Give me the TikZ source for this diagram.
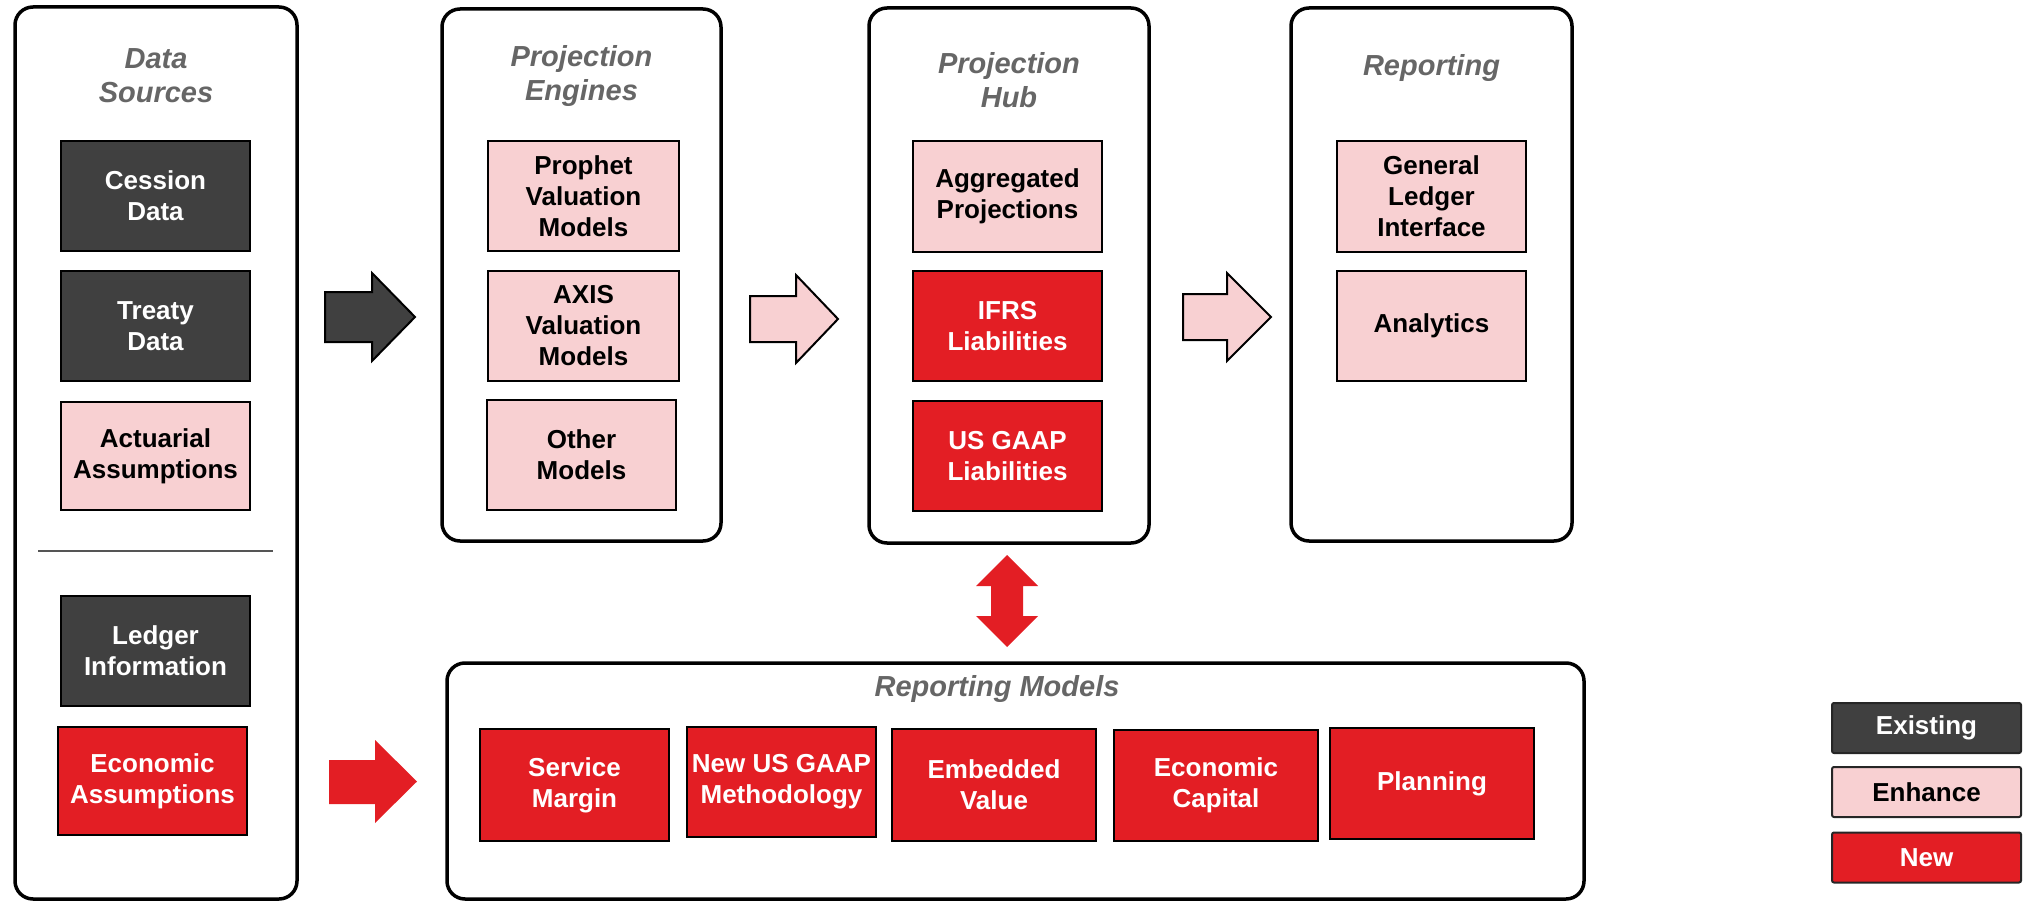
\documentclass[tikz,border=0pt]{standalone}
\usepackage{fontspec}
\setmainfont{Liberation Sans}
\definecolor{darkbox}{HTML}{404040}
\definecolor{pinkbox}{HTML}{F8D0D2}
\definecolor{redbox}{HTML}{E31E24}
\definecolor{titlegray}{HTML}{666666}
\definecolor{rulegray}{HTML}{555555}
\tikzset{
  panel/.style={draw=black, line width=3.5pt, rounded corners=18pt, inner sep=0pt},
  ptitle/.style={text=titlegray, font=\fontsize{29}{34}\selectfont\bfseries\itshape, align=center, inner sep=0pt},
  item/.style={draw=black, line width=2pt, align=center, inner sep=0pt,
    font=\fontsize{26}{31}\selectfont\bfseries},
  existing/.style={item, fill=darkbox, text=white},
  enhance/.style={item, fill=pinkbox, text=black},
  newitem/.style={item, fill=redbox, text=white},
  legendbox/.style={draw=black!85, line width=2pt, rounded corners=2pt, inner sep=0pt,
    minimum width=189pt, minimum height=50pt, font=\fontsize{26}{31}\selectfont\bfseries},
  blockarrow/.style={line width=2pt, draw=black, line join=miter},
}
\begin{document}
\begin{tikzpicture}[x=1pt,y=-1pt]
\useasboundingbox (0,0) rectangle (2031,901);

% ---------- column panels ----------
\node[panel, minimum width=282pt, minimum height=892pt] (ds)  at (156,453) {};
\node[panel, minimum width=279pt, minimum height=532pt] (pe)  at (581.5,275) {};
\node[panel, minimum width=280pt, minimum height=535pt] (hub) at (1009,275.5) {};
\node[panel, minimum width=281pt, minimum height=533pt] (rep) at (1431.5,274.5) {};
\node[panel, minimum width=1137pt, minimum height=236pt] (rm) at (1015.5,781) {};

% ---------- panel titles ----------
\node[ptitle] (dst)  at (156,75.5)  {Data\\Sources};
\node[ptitle] (pet)  at (581.5,76)  {Projection\\Engines};
\node[ptitle] (hubt) at (1009,80)   {Projection\\Hub};
\node[ptitle] (rept) at (1431.5,68) {Reporting};
\node[ptitle] (rmt)  at (997,689)   {Reporting Models};

% ---------- data sources ----------
\node[existing, minimum width=189pt, minimum height=110pt] (cession) at (155.5,196) {Cession\\Data};
\node[existing, minimum width=189pt, minimum height=110pt] (treaty)  at (155.5,326) {Treaty\\Data};
\node[enhance,  minimum width=189pt, minimum height=108pt] (actu)    at (155.5,456) {Actuarial\\Assumptions};
\draw[rulegray, line width=2pt] (38,551) coordinate (sepl) -- (273,551) coordinate (sepr);
\node[existing, minimum width=189pt, minimum height=110pt] (ledger)  at (155.5,651) {Ledger\\Information};
\node[newitem,  minimum width=189pt, minimum height=108pt] (econa)   at (152.5,781) {Economic\\Assumptions};

% ---------- projection engines ----------
\node[enhance, minimum width=191pt, minimum height=110pt] (prophet) at (583.5,196) {Prophet\\Valuation\\Models};
\node[enhance, minimum width=191pt, minimum height=110pt] (axis)    at (583.5,326) {AXIS\\Valuation\\Models};
\node[enhance, minimum width=189pt, minimum height=110pt] (other)   at (581.5,455) {Other\\Models};

% ---------- projection hub ----------
\node[enhance, minimum width=189pt, minimum height=111pt] (aggr) at (1007.5,196.5) {Aggregated\\Projections};
\node[newitem, minimum width=189pt, minimum height=110pt] (ifrs) at (1007.5,326) {IFRS\\Liabilities};
\node[newitem, minimum width=189pt, minimum height=110pt] (usg)  at (1007.5,456) {US GAAP\\Liabilities};

% ---------- reporting ----------
\node[enhance, minimum width=189pt, minimum height=111pt] (gli)  at (1431.5,196.5) {General\\Ledger\\Interface};
\node[enhance, minimum width=189pt, minimum height=110pt] (anal) at (1431.5,326) {Analytics};

% ---------- reporting models ----------
\node[newitem, minimum width=189pt, minimum height=112pt] (svc)  at (574.5,785)  {Service\\Margin};
\node[newitem, minimum width=189pt, minimum height=110pt] (nusg) at (781.5,782)  {New US GAAP\\Methodology};
\node[newitem, minimum width=204pt, minimum height=112pt] (emb)  at (994,785)    {Embedded\\Value};
\node[newitem, minimum width=204pt, minimum height=111pt] (ecap) at (1216,785.5) {Economic\\Capital};
\node[newitem, minimum width=204pt, minimum height=111pt] (plan) at (1432,783.5) {Planning};

% ---------- flow arrows ----------
\draw[blockarrow, fill=darkbox]
  (325,292) -- (372,292) -- (372,273) -- (415,317) -- (372,361) -- (372,342) -- (325,342) -- cycle;
\draw[blockarrow, fill=pinkbox]
  (750,296) -- (796,296) -- (796,275) -- (838,319) -- (796,363) -- (796,342) -- (750,342) -- cycle;
\draw[blockarrow, fill=pinkbox]
  (1183,294) -- (1227,294) -- (1227,273) -- (1271,317) -- (1227,361) -- (1227,340) -- (1183,340) -- cycle;
\fill[redbox]
  (329,760) -- (375,760) -- (375,740) -- (417,781.5) -- (375,823) -- (375,804) -- (329,804) -- cycle;
\fill[redbox]
  (1007,555) -- (1038,586) -- (1023,586) -- (1023,616) -- (1038,616) -- (1007,647)
  -- (976,616) -- (991,616) -- (991,586) -- (976,586) -- cycle;

% ---------- legend ----------
\node[legendbox, fill=darkbox, text=white] (lgex)  at (1926.5,728)   {Existing};
\node[legendbox, fill=pinkbox, text=black] (lgen)  at (1926.5,792)   {Enhance};
\node[legendbox, fill=redbox,  text=white] (lgnew) at (1926.5,857.5) {New};
\end{tikzpicture}
\end{document}
